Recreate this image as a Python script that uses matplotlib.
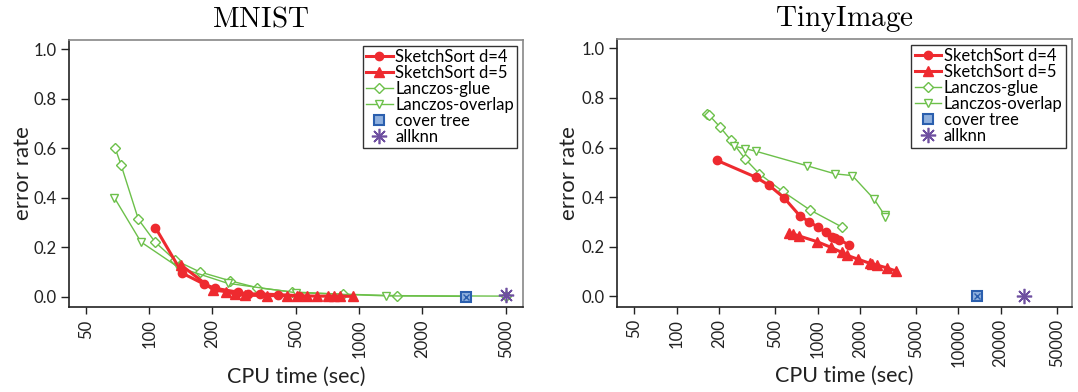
import matplotlib
matplotlib.use("Agg")
import matplotlib.pyplot as plt
from matplotlib.ticker import FixedLocator, FixedFormatter, NullLocator

# ---------------- data ----------------
# MNIST
mn_ss4_x = [107, 143.5, 182, 205, 265, 294, 337, 411, 518]
mn_ss4_y = [0.279, 0.095, 0.051, 0.034, 0.018, 0.011, 0.011, 0.008, 0.004]
mn_ss5_x = [141.5, 202, 232, 256, 285, 362, 451, 507, 565, 626, 712, 758, 809, 936]
mn_ss5_y = [0.128, 0.027, 0.020, 0.010, 0.006, 0.004, 0.004, 0.003, 0.003, 0.002, 0.002, 0.002, 0.002, 0.001]
mn_lg_x = [68.7, 73.3, 88.7, 106.5, 132.5, 174, 243, 327, 480, 833, 1507, 5000]
mn_lg_y = [0.602, 0.534, 0.313, 0.221, 0.148, 0.100, 0.064, 0.036, 0.019, 0.010, 0.004, 0.002]
mn_lo_x = [68.2, 91.3, 137.5, 236, 498, 1340, 3222]
mn_lo_y = [0.400, 0.221, 0.119, 0.054, 0.016, 0.003, 0.001]
mn_ct_x, mn_ct_y = [3222], [0.0]
mn_ak_x, mn_ak_y = [5000], [0.005]

# TinyImage
ti_ss4_x = [192, 366, 455, 579, 751, 876, 1000, 1143, 1267, 1331, 1413, 1682]
ti_ss4_y = [0.549, 0.480, 0.447, 0.397, 0.324, 0.300, 0.280, 0.258, 0.239, 0.234, 0.229, 0.207]
ti_ss5_x = [629, 673, 743, 986, 1253, 1485, 1611, 1928, 2358, 2430, 2630, 3097, 3608]
ti_ss5_y = [0.257, 0.251, 0.243, 0.221, 0.197, 0.177, 0.166, 0.150, 0.133, 0.130, 0.126, 0.115, 0.102]
ti_lg_x = [165, 169, 203, 243, 305, 385, 566, 886, 1486]
ti_lg_y = [0.736, 0.732, 0.683, 0.629, 0.555, 0.495, 0.423, 0.348, 0.280]
ti_lo_x = [256, 305, 366, 838, 1331, 1767, 2531, 2999, 3010]
ti_lo_y = [0.605, 0.596, 0.585, 0.527, 0.494, 0.487, 0.391, 0.327, 0.320]
ti_ct_x, ti_ct_y = [13520], [0.0]
ti_ak_x, ti_ak_y = [29300], [0.0]

mn_xticks = [50, 100, 200, 500, 1000, 2000, 5000]
ti_xticks = [50, 100, 200, 500, 1000, 2000, 5000, 10000, 20000, 50000]
yticks = [0.0, 0.2, 0.4, 0.6, 0.8, 1.0]

# ---------------- style ----------------
RED = "#ee2a2f"
GREEN = "#6cc04a"
BLUE = "#2b5fae"
PURPLE = "#6e4fa0"
SANS = "Lato"
plt.rcParams["font.family"] = SANS
plt.rcParams["mathtext.fontset"] = "cm"

fig = plt.figure(figsize=(10.78, 3.92), dpi=100)
axL = fig.add_axes([0.0643, 0.2168, 0.4209, 0.6812])
axR = fig.add_axes([0.5726, 0.2176, 0.4216, 0.6829])


def draw(ax, d, xticks, xlim, title, title_x, ylab_x):
    ss4x, ss4y, ss5x, ss5y, lgx, lgy, lox, loy, ctx, cty, akx, aky = d
    ax.plot(lgx, lgy, color=GREEN, lw=1.0, marker="D", ms=5, mfc="white",
            mec=GREEN, mew=1.0, label="Lanczos-glue", zorder=2)
    ax.plot(lox, loy, color=GREEN, lw=1.0, marker="v", ms=6, mfc="white",
            mec=GREEN, mew=1.0, label="Lanczos-overlap", zorder=2)
    ax.plot(ss4x, ss4y, color=RED, lw=2.2, marker="o", ms=6, mfc=RED,
            mec=RED, label="SketchSort d=4", zorder=3)
    ax.plot(ss5x, ss5y, color=RED, lw=2.2, marker="^", ms=6.5, mfc=RED,
            mec=RED, label="SketchSort d=5", zorder=3)
    ax.plot(ctx, cty, ls="none", marker="s", ms=7, mfc="#8fb0de", mec=BLUE,
            mew=1.5, label="cover tree", zorder=4)
    ax.plot(ctx, cty, ls="none", marker="x", ms=4, mec=BLUE, mew=1.0, zorder=5)
    ax.plot(akx, aky, ls="none", marker=(8, 2, 0), ms=11, mec=PURPLE,
            mfc=PURPLE, mew=1.2, label="allknn", zorder=5)

    ax.set_xscale("log")
    ax.set_xlim(*xlim)
    ax.set_ylim(-0.042, 1.038)
    ax.xaxis.set_major_locator(FixedLocator(xticks))
    ax.xaxis.set_major_formatter(FixedFormatter([str(t) for t in xticks]))
    ax.xaxis.set_minor_locator(NullLocator())
    ax.set_yticks(yticks)
    ax.set_yticklabels([f"{t:.1f}" for t in yticks])
    ax.tick_params(axis="x", labelrotation=90, labelsize=12, direction="out",
                   length=5, width=1, colors="#222222", pad=4)
    ax.tick_params(axis="y", labelsize=12, direction="out", length=6,
                   width=1, colors="#222222", pad=3)
    for s in ["top", "right"]:
        ax.spines[s].set_color("#888888")
        ax.spines[s].set_linewidth(1.2)
    for s in ["left", "bottom"]:
        ax.spines[s].set_color("#222222")
        ax.spines[s].set_linewidth(1.2)
    ax.set_xlabel("CPU time (sec)", fontsize=15.5, color="#222222")
    ax.xaxis.set_label_coords(0.5, -0.26)
    ax.xaxis.label.set_va("center")
    ax.set_ylabel("error rate", fontsize=16, color="#222222")
    ax.yaxis.set_label_coords(ylab_x, 0.5)
    ax.yaxis.label.set_va("center")
    ax.set_title(r"$\mathrm{" + title + "}$", fontsize=21, pad=9.5, x=title_x)

    h, l = ax.get_legend_handles_labels()
    order = ["SketchSort d=4", "SketchSort d=5", "Lanczos-glue",
             "Lanczos-overlap", "cover tree", "allknn"]
    hh = [h[l.index(o)] for o in order]
    leg = ax.legend(hh, order, loc="upper right", fontsize=12,
                    frameon=True, fancybox=False, edgecolor="#333333",
                    framealpha=1, borderpad=0.2, labelspacing=0.0,
                    handlelength=1.6, handletextpad=0.15, borderaxespad=0.35,
                    numpoints=1)
    leg.get_frame().set_linewidth(1.0)


draw(axL, (mn_ss4_x, mn_ss4_y, mn_ss5_x, mn_ss5_y, mn_lg_x, mn_lg_y,
           mn_lo_x, mn_lo_y, mn_ct_x, mn_ct_y, mn_ak_x, mn_ak_y),
     mn_xticks, (41.6, 6030), "MNIST", 0.422, -0.102)
draw(axR, (ti_ss4_x, ti_ss4_y, ti_ss5_x, ti_ss5_y, ti_lg_x, ti_lg_y,
           ti_lo_x, ti_lo_y, ti_ct_x, ti_ct_y, ti_ak_x, ti_ak_y),
     ti_xticks, (37.8, 64000), "TinyImage", 0.5, -0.106)

fig.savefig("out.png", dpi=100)
